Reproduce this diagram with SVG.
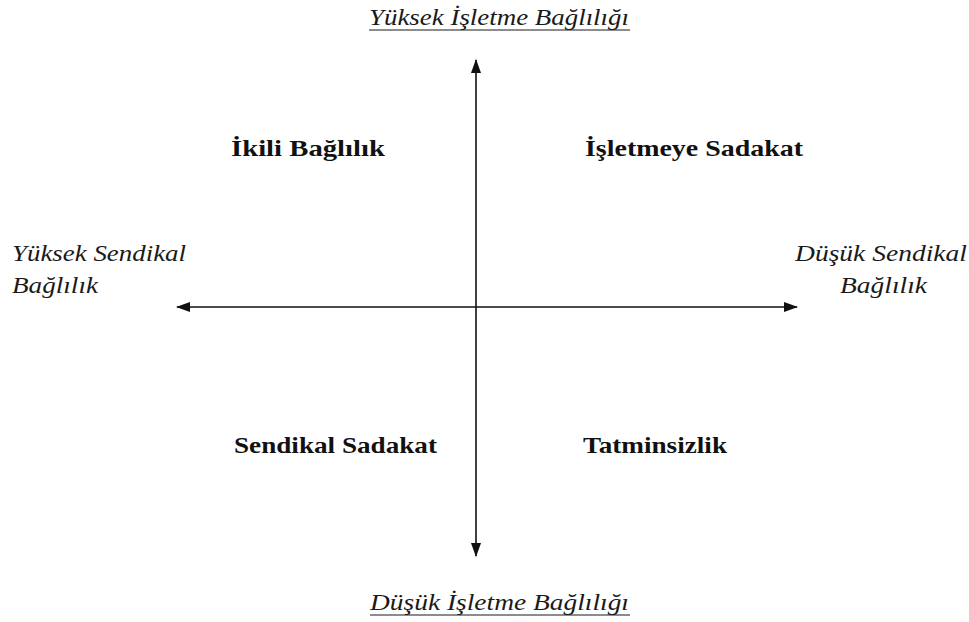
<svg xmlns="http://www.w3.org/2000/svg" width="969" height="622" viewBox="0 0 969 622">
<style>
.it{font-family:"Liberation Serif","Times New Roman",serif;font-style:italic;font-size:24px;fill:#1a1a1a}
.bd{font-family:"Liberation Serif","Times New Roman",serif;font-weight:bold;font-size:24px;fill:#111}
.ax{stroke:#111;stroke-width:1.6;fill:none}
</style>
<defs>
<marker id="ah" viewBox="0 0 14 10" refX="13" refY="5" markerWidth="14" markerHeight="10" markerUnits="userSpaceOnUse" orient="auto-start-reverse">
<path d="M0,0 L14,5 L0,10 Z" fill="#111"/>
</marker>
</defs>
<rect width="969" height="622" fill="#fff"/>
<g id="connectors">
<line class="ax" x1="476" y1="556" x2="476" y2="60" marker-start="url(#ah)" marker-end="url(#ah)"/>
<line class="ax" x1="177" y1="307" x2="797" y2="307" marker-start="url(#ah)" marker-end="url(#ah)"/>
</g>
<g id="top-label">
<text class="it" x="369" y="25" textLength="260" lengthAdjust="spacingAndGlyphs">Yüksek İşletme  Bağlılığı</text>
<line x1="369" y1="30" x2="630" y2="30" stroke="#1a1a1a" stroke-width="1.2"/>
</g>
<g id="bottom-label">
<text class="it" x="370" y="610" textLength="259" lengthAdjust="spacingAndGlyphs">Düşük İşletme Bağlılığı</text>
<line x1="370" y1="615" x2="630" y2="615" stroke="#1a1a1a" stroke-width="1.2"/>
</g>
<g id="left-label">
<text class="it" x="12" y="261" textLength="174" lengthAdjust="spacingAndGlyphs">Yüksek Sendikal</text>
<text class="it" x="12" y="293" textLength="86" lengthAdjust="spacingAndGlyphs">Bağlılık</text>
</g>
<g id="right-label">
<text class="it" x="795" y="261" textLength="172" lengthAdjust="spacingAndGlyphs">Düşük Sendikal</text>
<text class="it" x="840" y="293" textLength="87" lengthAdjust="spacingAndGlyphs">Bağlılık</text>
</g>
<g id="q1"><text class="bd" x="231" y="156" textLength="154" lengthAdjust="spacingAndGlyphs">İkili Bağlılık</text></g>
<g id="q2"><text class="bd" x="585" y="156" textLength="218" lengthAdjust="spacingAndGlyphs">İşletmeye Sadakat</text></g>
<g id="q3"><text class="bd" x="234" y="453" textLength="203" lengthAdjust="spacingAndGlyphs">Sendikal Sadakat</text></g>
<g id="q4"><text class="bd" x="583" y="453" textLength="144" lengthAdjust="spacingAndGlyphs">Tatminsizlik</text></g>
</svg>
